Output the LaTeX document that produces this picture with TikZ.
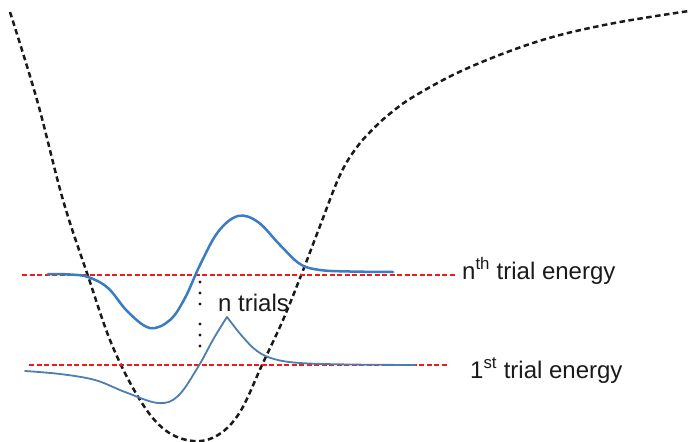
\documentclass[tikz,border=0pt]{standalone}
\usepackage{fontspec}
\setmainfont{Liberation Sans}
\definecolor{ink}{HTML}{1A1A1A}
\definecolor{wave}{HTML}{3A7CC2}
\definecolor{wavelo}{HTML}{4C7EAF}
\definecolor{level}{HTML}{EE1C1C}
\tikzset{
  pes/.style={draw=ink,line width=2.5pt,dash pattern=on 5.5pt off 3.5pt},
  lvl/.style={draw=level,line width=1.3pt,dash pattern=on 5pt off 2.5pt},
  psi/.style={draw=wave,line width=2.5pt,line cap=round,line join=round},
  psilo/.style={draw=wavelo,line width=1.8pt,line cap=round,line join=round},
  lbl/.style={font=\fontsize{24}{28}\selectfont,text=ink,inner sep=0pt},
}

\begin{document}
\begin{tikzpicture}[x=1pt,y=-1pt]
  \useasboundingbox (0,0) rectangle (689,442);

  % potential energy curve
  \draw[pes] plot[smooth,tension=0.6] coordinates {(10,12) (37,100) (63,200) (88,276) (112,345) (140,400) (165,430) (193,441) (218,435) (240,412) (262,365) (283,320) (302,273) (320,226) (340,175) (357,147) (375,127) (392,112) (413,97) (457,73) (510,51) (560,35) (620,22) (689,11)};

  % trial energy levels
  \draw[lvl] (22,275) coordinate (nl) -- (455,275) coordinate (nr);
  \draw[lvl] (29,365) coordinate (fl) -- (448,365) coordinate (fr);

  % trial wavefunctions
  \draw[psi] plot[smooth,tension=0.6] coordinates {(48,274) (70,274.5) (88,277) (108,288) (128,312) (150,328) (170,320) (185,298) (200,265) (218,232) (238,216) (258,222) (280,245) (300,264) (320,270) (350,271.5) (393,272)};
  \draw[psilo] plot[smooth,tension=0.6] coordinates {(25,371) (60,374) (95,380) (125,392) (158,403) (178,396) (198,367) (214,338) (227,317)}
    -- plot[smooth,tension=0.6] coordinates {(227,317) (242,336) (257,351) (274,359) (300,363) (350,364.5) (415,365)};

  % trials in between
  \foreach \y in {282,293,304,324,335,346}
    \fill[ink] (200,\y) circle (1.6);

  \node[lbl,anchor=base west] (ntrials) at (218,311) {n trials};
  \node[lbl,anchor=base west] (nth) at (462,279) {n\textsuperscript{th} trial energy};
  \node[lbl,anchor=base west] (first) at (470,378) {1\textsuperscript{st} trial energy};
\end{tikzpicture}
\end{document}
